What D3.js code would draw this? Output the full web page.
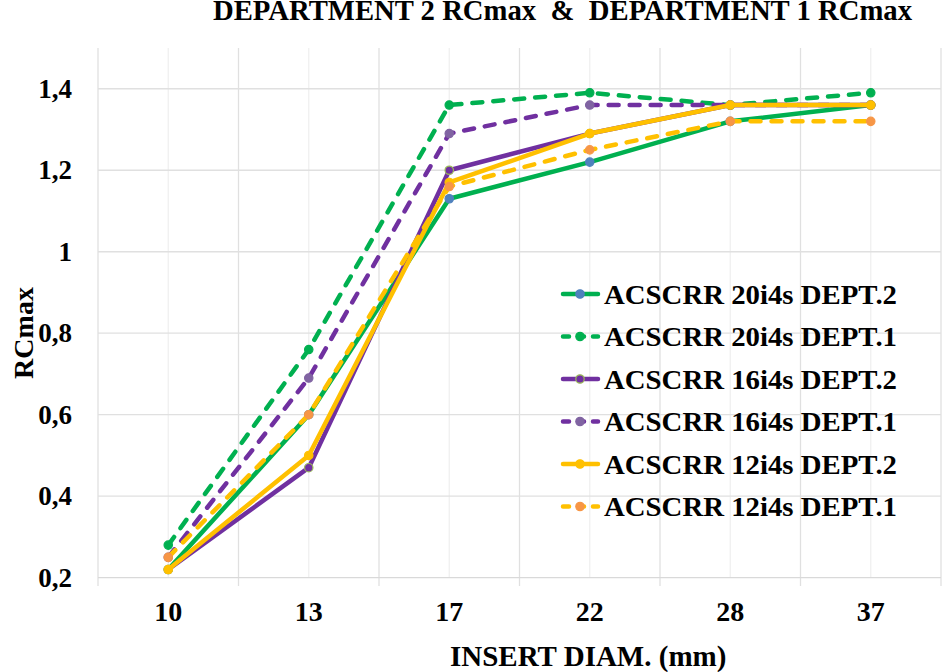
<!DOCTYPE html>
<html><head><meta charset="utf-8">
<script src="https://cdn.jsdelivr.net/npm/d3@7"></script>
<style>body{margin:0;background:#fff}svg{display:block}text{font-family:"Liberation Serif","Times New Roman",serif;font-weight:bold;fill:#000}</style>
</head><body><svg id="c" width="943" height="672"></svg>
<script>
const categories = ["10","13","17","22","28","37"];
const yTicks = [0.2,0.4,0.6,0.8,1.0,1.2,1.4];
const yTickLabels = ["0,2","0,4","0,6","0,8","1","1,2","1,4"];
const seriesNames = ["ACSCRR 20i4s DEPT.2","ACSCRR 20i4s DEPT.1","ACSCRR 16i4s DEPT.2","ACSCRR 16i4s DEPT.1","ACSCRR 12i4s DEPT.2","ACSCRR 12i4s DEPT.1"];
const s20d2 = [0.22,0.60,1.13,1.22,1.32,1.36];
const s20d1 = [0.28,0.76,1.36,1.39,1.36,1.39];
const s16d2 = [0.22,0.47,1.20,1.29,1.36,1.36];
const s16d1 = [0.25,0.69,1.29,1.36,1.36,1.36];
const s12d2 = [0.22,0.50,1.17,1.29,1.36,1.36];
const s12d1 = [0.25,0.60,1.16,1.25,1.32,1.32];
const lineColors = ["#00b050","#00b050","#7030a0","#7030a0","#ffc000","#ffc000"];
const markerFill = ["#4f81bd","#00b050","#7030a0","#8064a2","#ffc000","#f79646"];
const markerStroke = ["#4f81bd","#00b050","#9bbb59","#8064a2","#ffc000","#f79646"];
const dashed = [false,true,false,true,false,true];
const values = [s20d2,s20d1,s16d2,s16d1,s12d2,s12d1];

const svg = d3.select("#c");
const L=98, R=941, T=48, B=577.7;
const xb = d3.scaleBand().domain(categories).range([L,R]).padding(0);
const xc = c => xb(c)+xb.bandwidth()/2;
const y = d3.scaleLinear().domain([0.2,1.5]).range([B,T]);

// minor vertical gridlines (category centers)
svg.append("g").selectAll("line").data(categories).join("line")
  .attr("x1",d=>xc(d)).attr("x2",d=>xc(d)).attr("y1",T).attr("y2",B)
  .attr("stroke","#f0f0f0").attr("stroke-width",1.3);
// major vertical gridlines (boundaries) with tick marks
const bounds = categories.map(c=>xb(c)).concat([R]);
svg.append("g").selectAll("line").data(bounds).join("line")
  .attr("x1",d=>d).attr("x2",d=>d).attr("y1",T).attr("y2",586)
  .attr("stroke","#e0e0e0").attr("stroke-width",1.3);
// horizontal gridlines
svg.append("g").selectAll("line").data(yTicks).join("line")
  .attr("x1",L).attr("x2",R).attr("y1",d=>y(d)).attr("y2",d=>y(d))
  .attr("stroke",(d,i)=>i===0?"#d9d9d9":"#e0e0e0").attr("stroke-width",1.3);

// y tick labels
svg.append("g").selectAll("text").data(yTicks).join("text")
  .attr("x",72).attr("y",d=>y(d)+9).attr("text-anchor","end")
  .style("font-size","27px").text((d,i)=>yTickLabels[i]);
// x tick labels
svg.append("g").selectAll("text").data(categories).join("text")
  .attr("x",d=>xc(d)).attr("y",621).attr("text-anchor","middle")
  .style("font-size","28px").text(d=>d);

// axis titles
svg.append("text").attr("transform","translate(33,333) rotate(-90)")
  .attr("text-anchor","middle").style("font-size","28px").text("RCmax");
svg.append("text").attr("x",450).attr("y",666)
  .style("font-size","29px").text("INSERT DIAM. (mm)");
svg.append("text").attr("x",213).attr("y",20).attr("textLength",699).attr("lengthAdjust","spacingAndGlyphs")
  .style("font-size","28.5px").style("white-space","pre").text("DEPARTMENT 2 RCmax  &  DEPARTMENT 1 RCmax");

// lines
const line = d3.line().x((d,i)=>xc(categories[i])).y(d=>y(d));
values.forEach((v,k)=>{
  svg.append("path").datum(v).attr("d",line).attr("fill","none")
    .attr("stroke",lineColors[k]).attr("stroke-width",4.5)
    .attr("stroke-linecap",dashed[k]?"round":"butt").attr("stroke-linejoin","round")
    .attr("stroke-dasharray",dashed[k]?"10,11":null);
  svg.append("g").selectAll("circle").data(v).join("circle")
    .attr("cx",(d,i)=>xc(categories[i])).attr("cy",d=>y(d)).attr("r",4.2)
    .attr("fill",markerFill[k]).attr("stroke",markerStroke[k]).attr("stroke-width",1.2);
});

// legend
const lg = svg.append("g");
seriesNames.forEach((n,k)=>{
  const ly = 294 + k*42.5;
  lg.append("line").attr("x1",563).attr("x2",598).attr("y1",ly).attr("y2",ly)
    .attr("stroke",lineColors[k]).attr("stroke-width",4.5)
    .attr("stroke-linecap","round")
    .attr("stroke-dasharray",dashed[k]?"6,9":null);
  lg.append("circle").attr("cx",580).attr("cy",ly).attr("r",4.2)
    .attr("fill",markerFill[k]).attr("stroke",markerStroke[k]).attr("stroke-width",1.2);
  lg.append("text").attr("x",604).attr("y",ly+9.5).attr("textLength",293).attr("lengthAdjust","spacingAndGlyphs")
    .style("font-size","28px").text(n);
});
</script></body></html>
